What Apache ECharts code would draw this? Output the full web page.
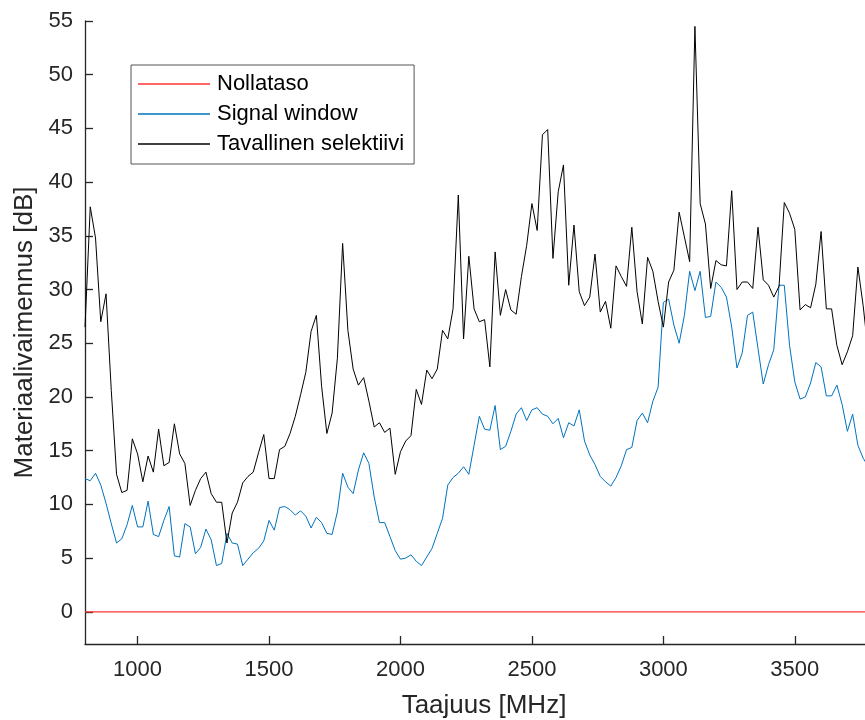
<!DOCTYPE html>
<html>
<head>
<meta charset="utf-8">
<script src="https://cdn.jsdelivr.net/npm/echarts@6.0.0/dist/echarts.min.js"></script>
<style>
  html, body { margin: 0; padding: 0; background: #fff; }
  #chart { width: 865px; height: 720px; }
</style>
</head>
<body>
<div id="chart"></div>
<script>
// taajuudet [MHz], 20 MHz välein
const freqs = [
  800, 820, 840, 860, 880, 900, 920, 940, 960, 980,
  1000, 1020, 1040, 1060, 1080, 1100, 1120, 1140, 1160, 1180,
  1200, 1220, 1240, 1260, 1280, 1300, 1320, 1340, 1360, 1380,
  1400, 1420, 1440, 1460, 1480, 1500, 1520, 1540, 1560, 1580,
  1600, 1620, 1640, 1660, 1680, 1700, 1720, 1740, 1760, 1780,
  1800, 1820, 1840, 1860, 1880, 1900, 1920, 1940, 1960, 1980,
  2000, 2020, 2040, 2060, 2080, 2100, 2120, 2140, 2160, 2180,
  2200, 2220, 2240, 2260, 2280, 2300, 2320, 2340, 2360, 2380,
  2400, 2420, 2440, 2460, 2480, 2500, 2520, 2540, 2560, 2580,
  2600, 2620, 2640, 2660, 2680, 2700, 2720, 2740, 2760, 2780,
  2800, 2820, 2840, 2860, 2880, 2900, 2920, 2940, 2960, 2980,
  3000, 3020, 3040, 3060, 3080, 3100, 3120, 3140, 3160, 3180,
  3200, 3220, 3240, 3260, 3280, 3300, 3320, 3340, 3360, 3380,
  3400, 3420, 3440, 3460, 3480, 3500, 3520, 3540, 3560, 3580,
  3600, 3620, 3640, 3660, 3680, 3700, 3720, 3740, 3760, 3780
]

const signalWindow = [
  12.4, 12.2, 12.9, 11.8, 10.1, 8.2, 6.4, 6.8, 8.1, 9.9,
  7.9, 7.9, 10.3, 7.2, 7.0, 8.5, 9.8, 5.2, 5.1, 8.2,
  7.9, 5.4, 6.0, 7.7, 6.7, 4.3, 4.5, 7.3, 6.4, 6.3,
  4.3, 4.9, 5.5, 5.9, 6.6, 8.5, 7.6, 9.7, 9.8, 9.5,
  9.0, 9.4, 8.9, 7.8, 8.8, 8.3, 7.3, 7.2, 9.3, 12.9,
  11.6, 11.0, 13.2, 14.8, 13.8, 10.7, 8.3, 8.3, 7.0, 5.7,
  4.9, 5.0, 5.3, 4.7, 4.3, 5.1, 5.9, 7.3, 8.7, 11.8,
  12.5, 12.9, 13.5, 12.8, 15.5, 18.2, 17.0, 16.9, 19.2, 15.1,
  15.4, 16.8, 18.4, 19.0, 17.8, 18.8, 19.0, 18.4, 18.2, 17.5,
  18.0, 16.2, 17.6, 17.3, 18.8, 15.9, 14.6, 13.7, 12.6, 12.1,
  11.7, 12.5, 13.6, 15.1, 15.3, 17.8, 18.5, 17.6, 19.6, 20.9,
  28.8, 29.1, 26.7, 25.0, 27.6, 31.7, 29.9, 31.7, 27.4, 27.5,
  30.7, 30.2, 29.3, 26.5, 22.7, 24.1, 27.6, 27.9, 24.5, 21.2,
  23.0, 24.4, 30.4, 30.4, 24.8, 21.4, 19.8, 20.0, 21.3, 23.2,
  22.8, 20.1, 20.1, 21.1, 19.3, 16.8, 18.4, 15.5, 14.3, 13.5
]

const selektiivi = [
  26.5, 37.7, 34.8, 27.0, 29.6, 20.6, 12.8, 11.1, 11.3, 16.1,
  14.7, 12.1, 14.5, 13.0, 17.0, 13.6, 13.9, 17.5, 14.7, 13.8,
  9.9, 11.3, 12.4, 13.0, 11.0, 10.2, 10.2, 6.4, 9.2, 10.2,
  12.0, 12.6, 13.0, 14.8, 16.5, 12.4, 12.4, 15.1, 15.4, 16.6,
  18.2, 20.2, 22.3, 26.1, 27.6, 21.0, 16.6, 18.5, 23.6, 34.3,
  26.2, 22.6, 21.1, 21.8, 19.6, 17.2, 17.6, 16.7, 17.1, 12.8,
  14.9, 15.9, 16.4, 20.7, 19.3, 22.5, 21.7, 22.6, 26.2, 25.4,
  28.2, 38.8, 25.4, 33.1, 28.2, 27.0, 27.2, 22.8, 33.5, 27.6,
  30.0, 28.1, 27.7, 31.2, 34.1, 38.0, 35.5, 44.4, 44.9, 32.9,
  39.1, 41.6, 30.4, 36.0, 29.8, 28.5, 29.3, 33.3, 27.9, 28.9,
  26.4, 32.2, 31.2, 30.3, 35.8, 29.8, 26.8, 33.0, 31.7, 28.9,
  26.5, 30.7, 31.8, 37.2, 34.9, 32.6, 54.5, 38.0, 36.1, 30.1,
  32.7, 32.3, 32.2, 39.2, 30.0, 30.7, 30.7, 30.1, 35.8, 30.9,
  30.4, 29.3, 30.3, 38.1, 37.1, 35.6, 28.1, 28.6, 28.3, 30.5,
  35.4, 28.2, 28.2, 24.8, 23.0, 24.2, 25.7, 32.1, 28.5, 24.0
]

const zeroFreqs = [800, 3780]
const zeroLevel = [0, 0]

const xTicks = [1000, 1500, 2000, 2500, 3000, 3500]
const yTicks = [0, 5, 10, 15, 20, 25, 30, 35, 40, 45, 50, 55]

const font = "'Liberation Sans', Arial, Helvetica, sans-serif"
const ink = '#262626'

const pairs = (xs, ys) => xs.map((x, i) => [x, ys[i]])

const chart = echarts.init(document.getElementById('chart'), null, { renderer: 'canvas' })
chart.setOption({
  animation: false,
  backgroundColor: '#fff',
  textStyle: { fontFamily: font, color: ink },
  grid: { left: 85, right: 0, top: 21, bottom: 76, outerBoundsMode: 'none' },
  legend: {
    orient: 'vertical',
    left: 131,
    top: 65,
    padding: [8, 10, 9, 7],
    icon: 'rect',
    itemWidth: 72,
    itemHeight: 1.5,
    itemGap: 8,
    borderColor: '#555',
    borderWidth: 1,
    backgroundColor: '#fff',
    textStyle: { fontFamily: font, fontSize: 22, color: '#000', lineHeight: 22, padding: [0, 0, 0, 2] },
    data: ['Nollataso', 'Signal window', 'Tavallinen selektiivi']
  },
  xAxis: {
    type: 'value',
    min: 800,
    max: 3767,
    name: 'Taajuus [MHz]',
    nameLocation: 'middle',
    nameGap: 49,
    nameTextStyle: { fontFamily: font, fontSize: 26, color: ink, padding: [0, 0, 0, 18] },
    axisLine: { onZero: false, lineStyle: { color: ink, width: 1.3 } },
    axisTick: { inside: true, length: 8, customValues: xTicks, lineStyle: { color: ink, width: 1.3 } },
    axisLabel: {
      customValues: xTicks,
      formatter: (v) => String(v),
      fontFamily: font, fontSize: 22, color: ink, margin: 15
    },
    splitLine: { show: false }
  },
  yAxis: {
    type: 'value',
    min: -3,
    max: 55,
    name: 'Materiaalivaimennus [dB]',
    nameLocation: 'middle',
    nameGap: 44,
    nameTextStyle: { fontFamily: font, fontSize: 26, color: ink },
    axisLine: { show: true, lineStyle: { color: ink, width: 1.3 } },
    axisTick: { show: true, inside: true, length: 8, customValues: yTicks, lineStyle: { color: ink, width: 1.3 } },
    axisLabel: {
      customValues: yTicks,
      formatter: (v) => String(v),
      fontFamily: font, fontSize: 22, color: ink, margin: 12
    },
    splitLine: { show: false }
  },
  series: [
    {
      name: 'Nollataso',
      type: 'line',
      symbol: 'none',
      color: '#ff3333',
      lineStyle: { width: 1.2, color: '#ff3333' },
      data: pairs(zeroFreqs, zeroLevel)
    },
    {
      name: 'Signal window',
      type: 'line',
      symbol: 'none',
      color: '#0072bd',
      lineStyle: { width: 1, color: '#0072bd' },
      data: pairs(freqs, signalWindow)
    },
    {
      name: 'Tavallinen selektiivi',
      type: 'line',
      symbol: 'none',
      color: '#000000',
      lineStyle: { width: 1, color: '#000000' },
      data: pairs(freqs, selektiivi)
    }
  ]
})
</script>
</body>
</html>
